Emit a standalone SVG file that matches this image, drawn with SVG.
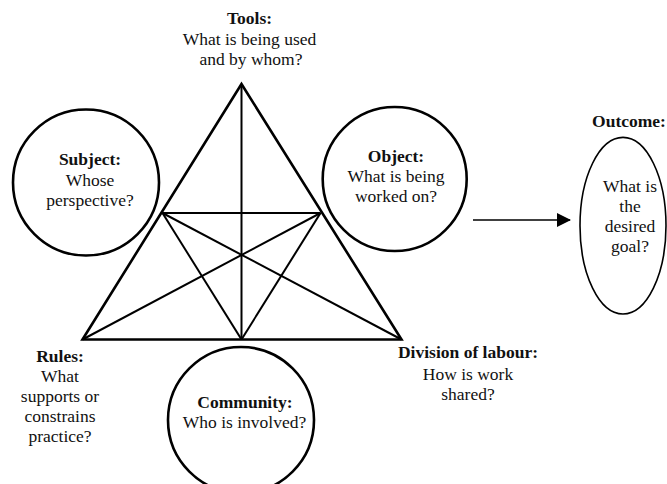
<svg xmlns="http://www.w3.org/2000/svg" width="667" height="484" viewBox="0 0 667 484">
  <style>
    text { font-family: 'Liberation Serif', 'DejaVu Serif', serif; font-size: 17.5px; fill: #111; text-anchor: middle; }
    .b { font-weight: bold; }
    .ring { fill: none; stroke: #000; stroke-width: 2.6; }
    .oval { fill: none; stroke: #000; stroke-width: 1.6; }
    .edge { stroke: #000; stroke-width: 2.6; fill: none; stroke-linejoin: miter; }
    .inner { stroke: #000; stroke-width: 2; fill: none; }
    .flow { stroke: #000; stroke-width: 1.6; fill: none; }
  </style>
  <defs>
    <marker id="head" markerWidth="14" markerHeight="14" refX="13" refY="7" orient="auto" markerUnits="userSpaceOnUse">
      <path d="M0,0 L14,7 L0,14 Z" fill="#000"/>
    </marker>
  </defs>
  <rect width="667" height="484" fill="#fff"/>

  <!-- activity triangle with its inner lines -->
  <g id="connectors">
    <polygon class="edge" points="241.5,84 82.5,339.5 401.5,339.5"/>
    <line class="inner" x1="162.5" y1="213" x2="320.5" y2="213"/>
    <line class="inner" x1="241.5" y1="84" x2="241.5" y2="339.5"/>
    <line class="inner" x1="162.5" y1="213" x2="401.5" y2="339.5"/>
    <line class="inner" x1="320.5" y1="213" x2="82.5" y2="339.5"/>
    <line class="inner" x1="162.5" y1="213" x2="241.5" y2="339.5"/>
    <line class="inner" x1="320.5" y1="213" x2="241.5" y2="339.5"/>
    <line class="flow" x1="473" y1="220" x2="570" y2="220" marker-end="url(#head)"/>
  </g>

  <g id="tools" font-family="Liberation Serif, DejaVu Serif, serif">
    <text class="b" x="249.5" y="24">Tools:</text>
    <text x="249.5" y="45">What is being used</text>
    <text x="251" y="65">and by whom?</text>
  </g>

  <g id="subject" font-family="Liberation Serif, DejaVu Serif, serif">
    <circle class="ring" cx="86" cy="182.5" r="73"/>
    <text class="b" x="90" y="165">Subject:</text>
    <text x="90" y="185.5">Whose</text>
    <text x="90" y="206">perspective?</text>
  </g>

  <g id="object" font-family="Liberation Serif, DejaVu Serif, serif">
    <circle class="ring" cx="394.7" cy="179" r="72"/>
    <text class="b" x="396" y="162">Object:</text>
    <text x="396" y="182">What is being</text>
    <text x="396" y="202">worked on?</text>
  </g>

  <g id="outcome" font-family="Liberation Serif, DejaVu Serif, serif">
    <text class="b" x="629" y="127">Outcome:</text>
    <ellipse class="oval" cx="623" cy="225.7" rx="43" ry="88.3"/>
    <text x="630" y="192">What is</text>
    <text x="630" y="212">the</text>
    <text x="630" y="232">desired</text>
    <text x="630" y="252">goal?</text>
  </g>

  <g id="rules" font-family="Liberation Serif, DejaVu Serif, serif">
    <text class="b" x="60" y="362">Rules:</text>
    <text x="60" y="382">What</text>
    <text x="60" y="402">supports or</text>
    <text x="60" y="422">constrains</text>
    <text x="60" y="442">practice?</text>
  </g>

  <g id="community" font-family="Liberation Serif, DejaVu Serif, serif">
    <circle class="ring" cx="241" cy="420" r="73"/>
    <text class="b" x="245" y="408">Community:</text>
    <text x="244.5" y="428">Who is involved?</text>
  </g>

  <g id="division" font-family="Liberation Serif, DejaVu Serif, serif">
    <text class="b" x="468" y="358">Division of labour:</text>
    <text x="468" y="380">How is work</text>
    <text x="468" y="400">shared?</text>
  </g>
</svg>
